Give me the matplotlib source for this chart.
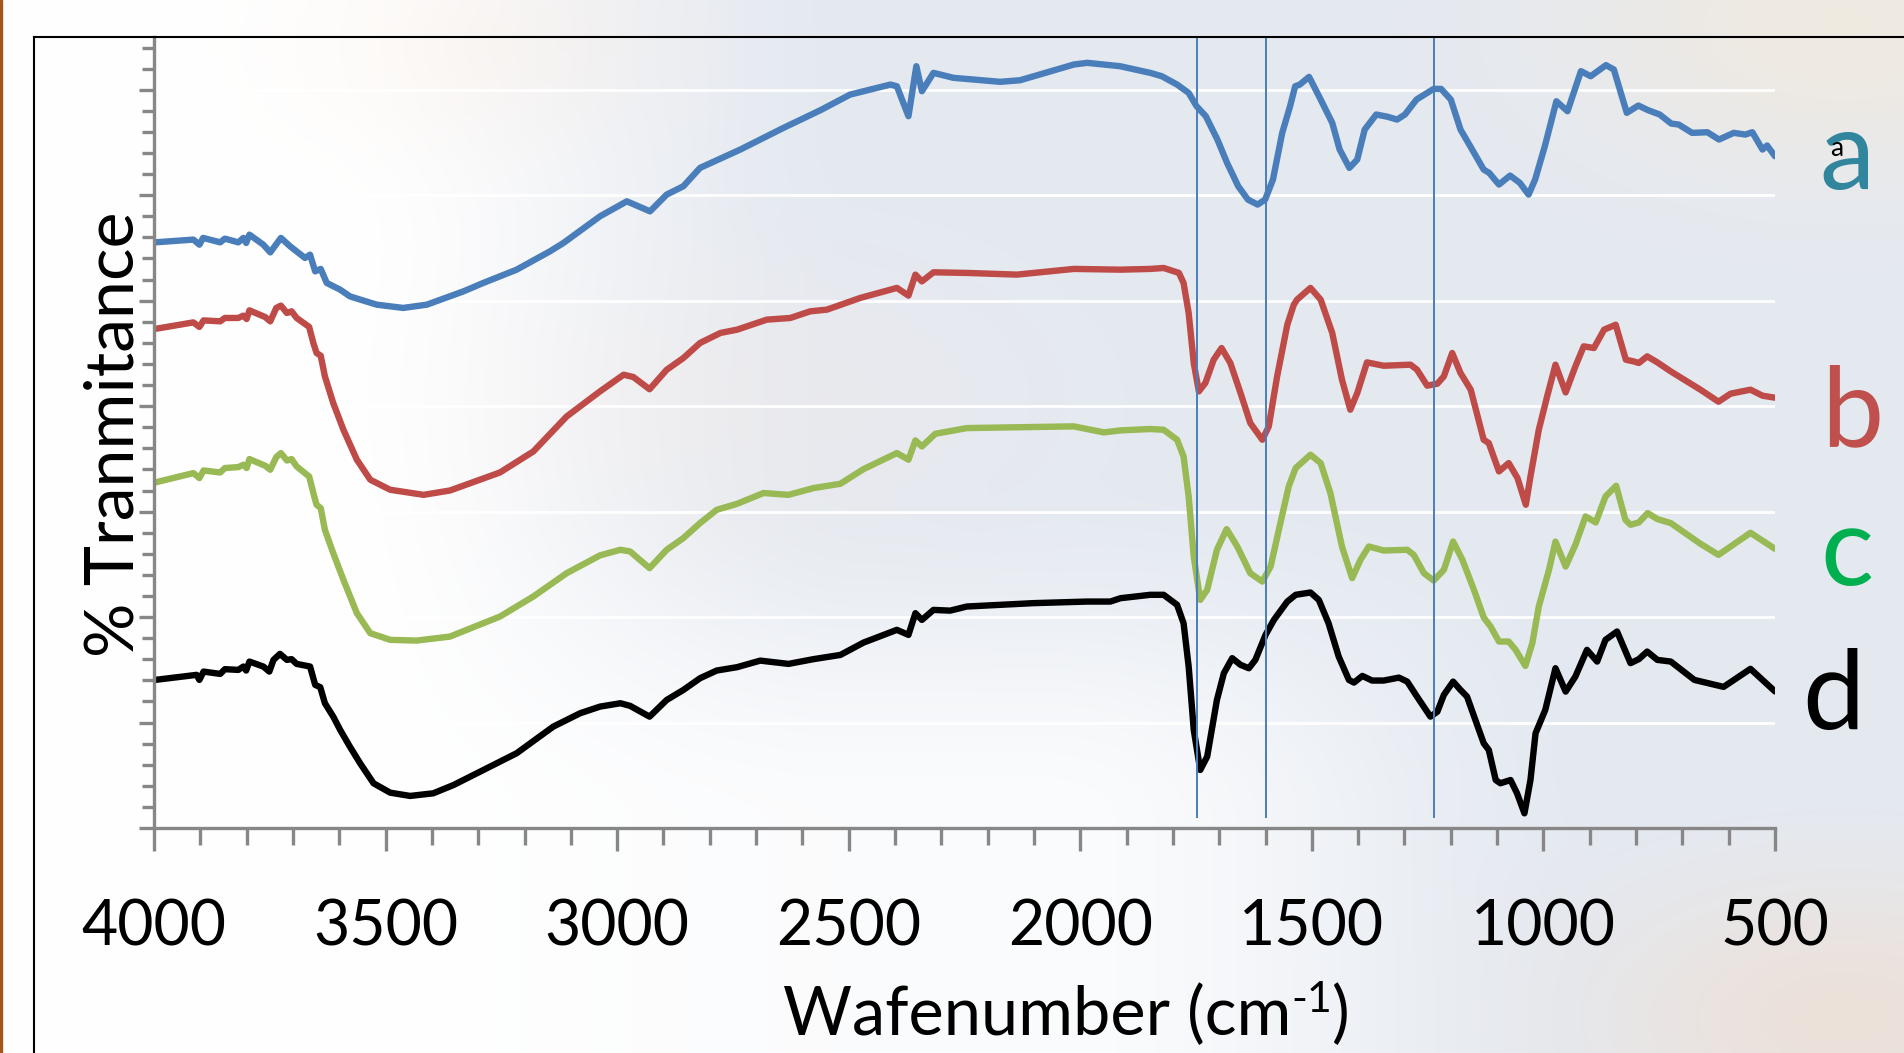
import numpy as np
import matplotlib.pyplot as plt
from matplotlib.lines import Line2D
from matplotlib.patches import Rectangle
from matplotlib.ticker import MultipleLocator

plt.rcParams['font.family'] = ['Lato', 'DejaVu Sans']

# ---- spectra (wavenumber, % transmittance, offset stacked) ----
wn_a = [3998, 3915, 3902, 3894, 3857, 3847, 3818, 3807, 3801, 3794, 3764, 3749, 3726, 3706,
        3674, 3663, 3652, 3640, 3627, 3598, 3577, 3559, 3519, 3462, 3411, 3332, 3289, 3217,
        3145, 3116, 3037, 2979, 2929, 2893, 2857, 2821, 2734, 2641, 2561, 2497, 2410, 2396,
        2371, 2354, 2342, 2317, 2274, 2173, 2130, 2014, 1985, 1914, 1849, 1824, 1791, 1766,
        1749, 1729, 1704, 1683, 1659, 1638, 1617, 1601, 1584, 1564, 1547, 1536, 1526, 1506,
        1481, 1456, 1440, 1419, 1402, 1386, 1361, 1336, 1316, 1299, 1274, 1237, 1221, 1200,
        1179, 1158, 1129, 1117, 1096, 1072, 1051, 1032, 1018, 997, 972, 948, 919, 898, 865,
        848, 820, 795, 774, 749, 724, 708, 679, 646, 621, 589, 564, 549, 527, 517, 500]
t_a = [55.53, 55.79, 55.31, 55.95, 55.53, 55.88, 55.53, 55.95, 55.47, 56.26, 55.31, 54.58,
       55.95, 55.15, 54.05, 54.36, 52.78, 53.01, 51.68, 51.04, 50.41, 50.16, 49.62, 49.31,
       49.62, 50.88, 51.68, 52.94, 54.68, 55.47, 58.0, 59.42, 58.47, 60.06, 60.85, 62.59,
       64.33, 66.38, 68.06, 69.54, 70.49, 70.33, 67.49, 72.23, 69.86, 71.60, 71.13, 70.75,
       70.90, 72.39, 72.55, 72.23, 71.60, 71.28, 70.49, 69.70, 68.44, 67.49, 65.28, 63.06,
       60.85, 59.58, 59.11, 59.58, 61.48, 65.91, 68.44, 70.33, 70.49, 71.22, 69.07, 66.86,
       64.33, 62.59, 63.38, 66.22, 67.65, 67.43, 67.17, 67.65, 69.07, 70.08, 70.08, 69.07,
       66.22, 64.64, 62.43, 62.11, 61.01, 61.86, 61.17, 60.06, 61.48, 64.64, 68.91, 67.96,
       71.76, 71.28, 72.33, 71.92, 67.81, 68.50, 68.06, 67.65, 66.79, 66.70, 65.91, 65.97,
       65.28, 65.91, 65.75, 65.97, 64.33, 64.71, 63.69]

wn_b = [3998, 3915, 3902, 3893, 3857, 3847, 3818, 3807, 3800, 3794, 3760, 3749, 3736, 3726,
        3713, 3703, 3692, 3665, 3656, 3649, 3640, 3631, 3613, 3591, 3562, 3533, 3490, 3418,
        3361, 3253, 3181, 3109, 3037, 2986, 2965, 2930, 2893, 2857, 2821, 2777, 2741, 2677,
        2626, 2583, 2547, 2475, 2396, 2371, 2356, 2342, 2317, 2245, 2137, 2014, 1913, 1849,
        1820, 1787, 1777, 1766, 1755, 1744, 1730, 1712, 1695, 1676, 1654, 1633, 1607, 1593,
        1575, 1553, 1539, 1532, 1503, 1481, 1456, 1435, 1417, 1402, 1381, 1345, 1287, 1273,
        1251, 1229, 1215, 1197, 1179, 1157, 1129, 1118, 1096, 1075, 1056, 1038, 1028, 1010,
        992, 974, 952, 931, 913, 891, 869, 844, 822, 805, 794, 776, 754, 725, 661, 622, 596,
        553, 527, 500]
t_b = [47.32, 47.94, 47.51, 48.13, 48.04, 48.36, 48.36, 48.58, 48.26, 49.08, 48.45, 48.04,
       49.31, 49.53, 48.83, 48.99, 48.36, 47.51, 45.99, 45.04, 44.78, 42.82, 40.29, 37.76,
       34.92, 33.02, 32.07, 31.59, 32.00, 33.71, 35.70, 39.02, 41.40, 42.98, 42.76, 41.60,
       43.45, 44.56, 45.99, 46.94, 47.25, 48.20, 48.36, 48.99, 49.15, 50.26, 51.21, 50.48,
       52.47, 51.83, 52.69, 52.63, 52.47, 53.01, 52.94, 53.01, 53.10, 52.63, 51.68, 48.83,
       44.09, 41.40, 42.19, 44.40, 45.51, 44.09, 41.24, 38.40, 36.81, 38.08, 42.82, 47.72,
       49.62, 50.10, 51.21, 50.10, 46.94, 42.51, 39.66, 41.24, 44.15, 43.83, 43.93, 43.46,
       41.94, 42.13, 42.82, 45.04, 43.14, 41.56, 36.81, 36.50, 33.81, 34.60, 33.18, 30.65,
       33.33, 37.76, 40.92, 43.93, 41.30, 43.77, 45.67, 45.51, 47.25, 47.72, 44.40, 44.24,
       44.09, 44.72, 44.15, 43.29, 41.56, 40.42, 41.18, 41.56, 40.99, 40.80]

wn_c = [3998, 3915, 3902, 3893, 3857, 3847, 3818, 3807, 3800, 3794, 3760, 3749, 3736, 3726,
        3713, 3703, 3692, 3665, 3654, 3649, 3640, 3631, 3613, 3591, 3562, 3533, 3490, 3433,
        3361, 3253, 3181, 3109, 3037, 2993, 2972, 2930, 2893, 2857, 2821, 2785, 2741, 2684,
        2630, 2576, 2518, 2468, 2396, 2371, 2356, 2342, 2313, 2245, 2101, 2014, 1949, 1913,
        1849, 1820, 1791, 1777, 1766, 1755, 1741, 1726, 1705, 1684, 1661, 1633, 1607, 1589,
        1568, 1550, 1535, 1503, 1481, 1460, 1435, 1413, 1395, 1377, 1345, 1294, 1280, 1258,
        1237, 1215, 1195, 1175, 1150, 1129, 1114, 1096, 1075, 1060, 1039, 1024, 1010, 988,
        974, 952, 931, 909, 887, 866, 843, 823, 812, 794, 775, 754, 725, 661, 622, 553, 500]
t_c = [32.76, 33.65, 33.18, 33.90, 33.71, 34.13, 34.22, 34.44, 34.13, 34.98, 34.35, 33.97,
       35.17, 35.55, 34.85, 34.98, 34.28, 33.33, 31.43, 30.65, 30.33, 28.27, 26.06, 23.53,
       20.37, 18.47, 17.84, 17.77, 18.15, 20.05, 21.95, 24.16, 25.85, 26.38, 26.22, 24.64,
       26.38, 27.49, 28.91, 30.17, 30.74, 31.76, 31.59, 32.23, 32.64, 34.03, 35.55, 34.92,
       36.75, 36.18, 37.38, 37.92, 38.02, 38.08, 37.51, 37.70, 37.83, 37.76, 36.81, 35.23,
       31.43, 25.74, 21.63, 22.58, 26.38, 28.34, 26.69, 24.16, 23.37, 24.79, 28.91, 32.38,
       34.13, 35.39, 34.60, 31.76, 26.69, 23.69, 25.43, 26.69, 26.31, 26.38, 25.90, 24.16,
       23.46, 24.48, 27.16, 25.43, 22.58, 19.97, 19.10, 17.68, 17.68, 16.89, 15.37, 17.52,
       21.00, 24.48, 27.16, 24.79, 26.85, 29.54, 28.97, 31.43, 32.45, 29.22, 28.75, 28.97,
       29.86, 29.29, 28.91, 26.95, 25.90, 27.99, 26.47]

wn_d = [3998, 3908, 3902, 3893, 3857, 3847, 3818, 3807, 3801, 3794, 3764, 3751, 3742, 3728,
        3713, 3703, 3692, 3663, 3652, 3641, 3631, 3613, 3598, 3577, 3555, 3526, 3490, 3447,
        3397, 3353, 3296, 3217, 3138, 3080, 3037, 2993, 2972, 2930, 2893, 2857, 2821, 2785,
        2741, 2691, 2630, 2576, 2518, 2468, 2396, 2371, 2356, 2342, 2317, 2281, 2245, 2101,
        1985, 1935, 1913, 1849, 1820, 1791, 1777, 1766, 1755, 1741, 1726, 1705, 1690, 1672,
        1654, 1636, 1622, 1600, 1582, 1553, 1535, 1503, 1485, 1464, 1442, 1420, 1409, 1391,
        1370, 1345, 1312, 1294, 1273, 1244, 1229, 1215, 1195, 1179, 1165, 1147, 1129, 1118,
        1103, 1093, 1071, 1057, 1041, 1028, 1017, 996, 974, 952, 931, 906, 884, 866, 841, 812,
        794, 776, 754, 725, 674, 611, 553, 500]
t_d = [14.04, 14.52, 14.04, 14.83, 14.61, 15.06, 14.99, 15.31, 14.93, 15.78, 15.31, 14.83,
       15.94, 16.51, 15.94, 16.01, 15.56, 15.31, 13.57, 13.35, 11.83, 10.56, 9.30, 7.71, 6.14,
       4.24, 3.35, 3.04, 3.29, 4.08, 5.34, 7.09, 9.61, 10.88, 11.51, 11.83, 11.58, 10.56,
       12.14, 13.09, 14.20, 14.93, 15.25, 15.87, 15.56, 16.01, 16.41, 17.58, 18.79, 18.31,
       20.37, 19.73, 20.68, 20.61, 21.00, 21.32, 21.47, 21.47, 21.79, 22.11, 22.11, 21.16,
       19.42, 15.31, 9.30, 5.50, 6.77, 12.14, 14.68, 16.10, 15.47, 15.15, 15.94, 18.31, 19.73,
       21.47, 22.11, 22.33, 21.63, 19.42, 16.25, 14.04, 13.79, 14.42, 13.98, 13.98, 14.26,
       13.88, 12.46, 10.56, 11.03, 12.62, 13.88, 13.09, 12.46, 10.25, 8.04, 7.40, 4.55, 4.24,
       4.55, 3.29, 1.39, 4.55, 8.98, 11.20, 15.15, 12.93, 14.36, 16.89, 15.78, 17.84, 18.63,
       15.63, 16.01, 16.73, 15.94, 15.78, 14.04, 13.38, 15.09, 12.95]

series = [(wn_a, t_a, '#4a7ebb'), (wn_b, t_b, '#be4b48'),
          (wn_c, t_c, '#98b954'), (wn_d, t_d, '#000000')]

peak_lines = [1747, 1600, 1237]
x_ticks = [4000, 3500, 3000, 2500, 2000, 1500, 1000, 500]
sample_labels = ['a', 'b', 'c', 'd']
label_colors = ['#31859c', '#c0504d', '#00b050', '#000000']


def sstep(x, a, b):
    t = np.clip((x - a) / (b - a), 0, 1)
    return t * t * (3 - 2 * t)


fig = plt.figure(figsize=(19.04, 10.53), dpi=100)

# washed-out photo-like background
bg_ax = fig.add_axes([0, 0, 1, 1], zorder=-10)
uu, vv = np.meshgrid(np.linspace(0, 1, 380), np.linspace(0, 1, 210))
wb = sstep(uu, 0.17, 0.45) * (1 - 0.85 * sstep(vv, 0.45, 0.78) * (1 - sstep(uu, 0.55, 0.85)))
img = np.ones((210, 380, 3))
base = np.array([0.895, 0.915, 0.945])
img = img * (1 - wb[..., None]) + base * wb[..., None]
for cu, cv, s, amp, col in [(0.26, 0.04, 0.07, 0.25, (0.97, 0.90, 0.85)),
                            (0.97, 0.02, 0.10, 0.6, (0.97, 0.92, 0.84)),
                            (0.97, 0.97, 0.09, 0.5, (0.96, 0.85, 0.76)),
                            (0.40, 0.38, 0.10, 0.25, (0.97, 0.92, 0.89))]:
    g = amp * np.exp(-((uu - cu) ** 2 + (vv - cv) ** 2) / (2 * s * s))
    img = img * (1 - g[..., None]) + np.array(col) * g[..., None]
bg_ax.imshow(img, aspect='auto', extent=[0, 1, 0, 1], origin='upper', interpolation='bicubic')
bg_ax.axis('off')

# left brown edge and black frame
fig.patches.append(Rectangle((0, 0), 2 / 1904, 1, transform=fig.transFigure,
                             color='#a5561b', zorder=-5))
fig.lines.append(Line2D([34 / 1904, 34 / 1904], [0, 1 - 37 / 1053], transform=fig.transFigure,
                        color='black', lw=1.5))
fig.lines.append(Line2D([34 / 1904, 1], [1 - 37 / 1053, 1 - 37 / 1053], transform=fig.transFigure,
                        color='black', lw=1.5))

ax = fig.add_axes([154 / 1904, 225 / 1053, 1621 / 1904, 791 / 1053])
ax.set_facecolor('none')

for wn, tt, col in series:
    ax.plot(wn, tt, color=col, lw=4.6, solid_joinstyle='round', solid_capstyle='round', zorder=2)

ax.vlines(peak_lines, 0.95, 75, color='#4a7ebb', lw=1.4, zorder=3)

ax.set_xlim(4000, 500)
ax.set_ylim(0, 75)
ax.set_xticks(x_ticks)
ax.set_xticklabels([str(v) for v in x_ticks])
ax.xaxis.set_minor_locator(MultipleLocator(100))
ax.set_yticks(np.arange(0, 71, 10))
ax.yaxis.set_minor_locator(MultipleLocator(2))
ax.yaxis.grid(True, which='major', color='white', lw=2.0)
ax.set_axisbelow(True)

for side in ['top', 'right']:
    ax.spines[side].set_visible(False)
for side in ['left', 'bottom']:
    ax.spines[side].set_color('#878787')
    ax.spines[side].set_linewidth(2.4)

ax.tick_params(axis='x', which='major', length=16.5, width=2.4, color='#878787',
               labelsize=45, pad=34)
ax.tick_params(axis='x', which='minor', length=12.2, width=2.4, color='#878787')
ax.tick_params(axis='y', which='major', length=10.8, width=2.4, color='#878787', labelleft=False)
ax.tick_params(axis='y', which='minor', length=8.6, width=2.4, color='#878787')

fig.text(115 / 1904, 1 - 434 / 1053, '% Tranmitance', rotation=90, ha='center', va='center',
         fontsize=49)

# x axis title with a plain hyphen superscript, laid out piece by piece
renderer = fig.canvas.get_renderer()
pieces = [('Wafenumber (cm', 48, 0.0), ('-1', 31, 23.0), (')', 48, 0.0)]
texts = []
total = 0.0
for s, fs, rise in pieces:
    t = fig.text(0, 0, s, fontsize=fs, ha='left', va='baseline')
    w = t.get_window_extent(renderer).width
    texts.append((t, w, rise))
    total += w
x_px = 1066 - total / 2
base_px = 1053 - 1034.6
for t, w, rise in texts:
    t.set_position((x_px / 1904, (base_px + rise) / 1053))
    x_px += w

label_x = [1847, 1852, 1847, 1833]
label_base = [189, 445, 585, 729]
for lab, col, lx, ly in zip(sample_labels, label_colors, label_x, label_base):
    fig.text(lx / 1904, 1 - ly / 1053, lab, color=col, fontsize=80, ha='center', va='baseline')
fig.text(1836.7 / 1904, 1 - 156 / 1053, 'a', color='black', fontsize=19, ha='center',
         va='baseline')

fig.savefig('out.png', dpi=100)
